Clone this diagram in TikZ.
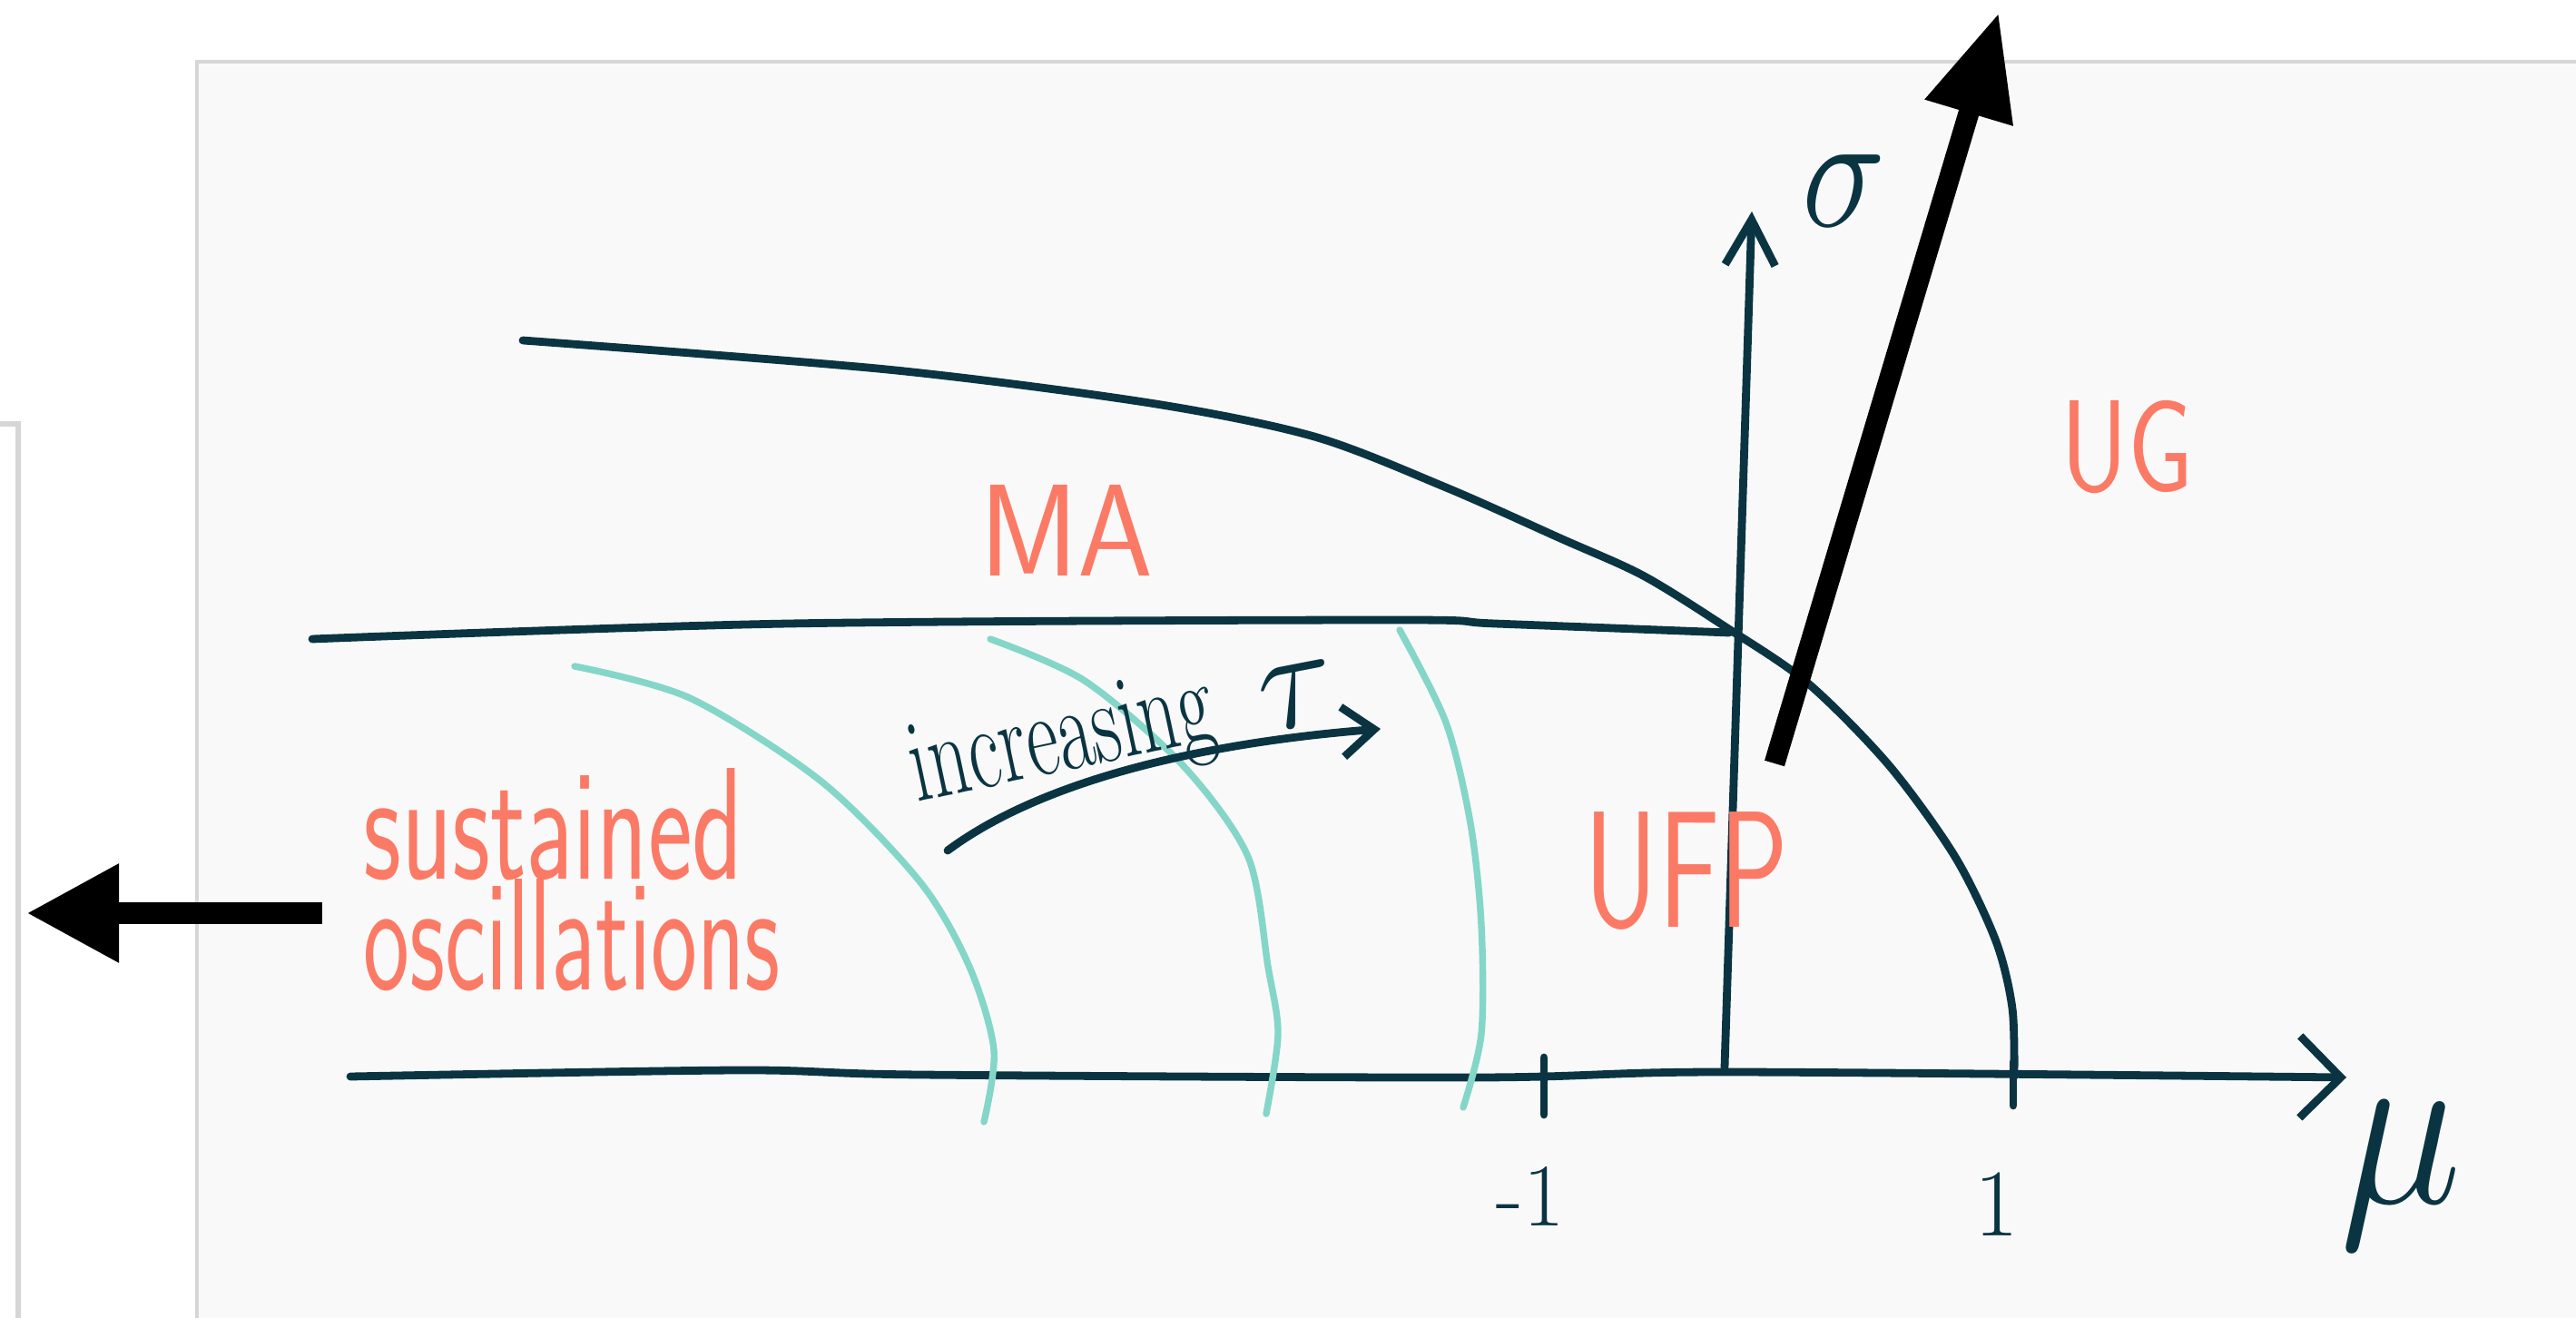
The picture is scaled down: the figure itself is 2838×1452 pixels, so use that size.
\documentclass[tikz,border=0pt]{standalone}
\usepackage{amssymb,amsmath}
\usepackage{tikz}
\usetikzlibrary{arrows.meta}
\definecolor{ink}{HTML}{0A3442}
\definecolor{marker}{HTML}{FB7A66}
\definecolor{mint}{HTML}{84D6C8}
\definecolor{paper}{HTML}{F9F9F9}
\definecolor{rim}{HTML}{D6D6D6}

\begin{document}
\begin{tikzpicture}[x=0.01cm,y=-0.01cm]
	 \tikzstyle{edge} = [draw,line width=2.5pt,ink,line cap=round,line join=round]
	 \tikzstyle{branch} = [draw,line width=2.1pt,mint,line cap=round,line join=round]
	 \tikzstyle{pointer} = [draw,line width=6.5pt,black,-{Triangle[length=1.15cm,width=0.95cm]}]
	 \tikzstyle{region} = [text=marker,inner sep=0pt,font=\sffamily\fontsize{41}{48}\selectfont]
	 \tikzstyle{inktext} = [text=ink,inner sep=0pt,font=\Huge]

	 \useasboundingbox (0,0) rectangle (2838,1452);
	 % panels
	 \fill[white] (0,0) rectangle (2838,1452);
	 \fill[paper] (217,68) rectangle (2838,1452);
	 \draw[rim,line width=1.2pt] (217,1452) -- (217,68) -- (2838,68);
	 \draw[rim,line width=1.5pt] (20,1452) -- (20,467) -- (0,467);

	 % mu axis
	 \coordinate (m0) at (386,1186);
	 \coordinate (m1) at (814,1179);
	 \coordinate (m2) at (1014,1184);
	 \coordinate (m3) at (1629,1187);
	 \coordinate (m4) at (1900,1181);
	 \coordinate (m5) at (2585,1187);
	 \draw[edge,-{Straight Barb[length=0.45cm,width=0.9cm]}] plot[smooth] coordinates {(m0) (m1) (m2) (m3) (m4) (m5)};
	 % sigma axis
	 \coordinate (s0) at (1900,1176);
	 \coordinate (s1) at (1930,233);
	 \draw[edge,-{Straight Barb[length=0.5cm,width=0.55cm]}] (s0) -- (s1);
	 % ticks
	 \coordinate (ta) at (1701,1165);
	 \coordinate (tb) at (1701,1228);
	 \coordinate (tc) at (2218,1170);
	 \coordinate (td) at (2218,1218);
	 \draw[edge] (ta) -- (tb);
	 \draw[edge] (tc) -- (td);

	 % MA boundaries
	 \coordinate (h0) at (344,704);
	 \coordinate (h1) at (869,687);
	 \coordinate (h2) at (1538,683);
	 \coordinate (h3) at (1647,687);
	 \coordinate (h4) at (1905,697);
	 \draw[edge] plot[smooth] coordinates {(h0) (h1) (h2) (h3) (h4)};
	 \coordinate (b0) at (576,375);
	 \coordinate (b1) at (977,407);
	 \coordinate (b2) at (1267,444);
	 \coordinate (b3) at (1448,481);
	 \coordinate (b4) at (1593,537);
	 \coordinate (b5) at (1719,593);
	 \coordinate (b6) at (1810,634);
	 \coordinate (b7) at (1900,690);
	 \coordinate (b8) at (1991,752);
	 \coordinate (b9) at (2081,843);
	 \coordinate (b10) at (2154,944);
	 \coordinate (b11) at (2199,1037);
	 \coordinate (b12) at (2217,1111);
	 \coordinate (b13) at (2219,1186);
	 \draw[edge] plot[smooth] coordinates {(b0) (b1) (b2) (b3) (b4) (b5) (b6) (b7) (b8) (b9) (b10) (b11) (b12) (b13)};

	 % tau branches
	 \coordinate (u0) at (633,734);
	 \coordinate (u1) at (760,769);
	 \coordinate (u2) at (905,861);
	 \coordinate (u3) at (1014,972);
	 \coordinate (u4) at (1068,1065);
	 \coordinate (u5) at (1095,1157);
	 \coordinate (u6) at (1084,1236);
	 \draw[branch] plot[smooth] coordinates {(u0) (u1) (u2) (u3) (u4) (u5) (u6)};
	 \coordinate (v0) at (1091,704);
	 \coordinate (v1) at (1195,750);
	 \coordinate (v2) at (1303,843);
	 \coordinate (v3) at (1375,944);
	 \coordinate (v4) at (1397,1065);
	 \coordinate (v5) at (1408,1139);
	 \coordinate (v6) at (1395,1227);
	 \draw[branch] plot[smooth] coordinates {(v0) (v1) (v2) (v3) (v4) (v5) (v6)};
	 \coordinate (w0) at (1542,694);
	 \coordinate (w1) at (1593,796);
	 \coordinate (w2) at (1620,907);
	 \coordinate (w3) at (1632,1019);
	 \coordinate (w4) at (1632,1139);
	 \coordinate (w5) at (1612,1220);
	 \draw[branch] plot[smooth] coordinates {(w0) (w1) (w2) (w3) (w4) (w5)};

	 % increasing tau
	 \node[inktext,rotate=12,xscale=0.98,yscale=1.5] (inc) at (1171,820) {increasing};
	 \node[inktext,rotate=11,scale=1.8] (tau) at (1430,766) {$\tau$};
	 \coordinate (c0) at (1044,937);
	 \coordinate (c1) at (1521,803);
	 \draw[edge,-{Straight Barb[length=0.35cm,width=0.55cm]}] (c0) .. controls (1150,858) and (1330,818) .. (c1);

	 % axis labels
	 \node[inktext,xscale=1.78,yscale=2.09] (sig) at (2032,210) {$\sigma$};
	 \node[inktext,xscale=2.59,yscale=2.97] (mu) at (2645,1295) {$\mu$};
	 \node[inktext,font=\fontsize{28}{34}\selectfont] (mone) at (1686,1318) {-1};
	 \node[inktext,font=\fontsize{30}{36}\selectfont] (one) at (2200,1327) {1};

	 % regions
	 \node[region,xscale=0.92] (ma) at (1175,584) {MA};
	 \node[region,xscale=0.8] (ug) at (2344,493) {UG};
	 \node[region,font=\sffamily\fontsize{52}{60}\selectfont,xscale=0.69] (ufp) at (1858,960) {UFP};
	 \node[region,font=\sffamily\fontsize{50}{58}\selectfont,xscale=0.66,anchor=base west] (sust) at (400,968) {sustained};
	 \node[region,font=\sffamily\fontsize{50}{58}\selectfont,xscale=0.615,anchor=base west] (osc) at (400,1090) {oscillations};

	 % pointers
	 \coordinate (p0) at (1955,841);
	 \coordinate (p1) at (2202,14);
	 \draw[pointer] (p0) -- (p1);
	 \coordinate (q0) at (355,1006);
	 \coordinate (q1) at (29,1006);
	 \draw[pointer,line width=7pt,-{Triangle[length=1.02cm,width=1.02cm]}] (q0) -- (q1);
 \end{tikzpicture}
\end{document}
